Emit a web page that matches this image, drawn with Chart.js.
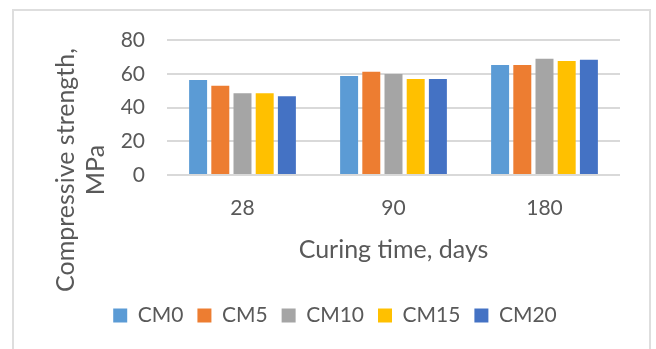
<!DOCTYPE html>
<html>
<head>
<meta charset="utf-8">
<script src="https://cdn.jsdelivr.net/npm/chart.js@4.4.1/dist/chart.umd.min.js"></script>
<style>
  html, body { margin: 0; padding: 0; background: #fff; }
  #wrap { position: relative; width: 656px; height: 349px; overflow: hidden; }
  #frame { position: absolute; left: 12px; top: 9px; width: 639px; height: 360px; border: 2px solid #dedede; box-sizing: border-box; }
  canvas { position: absolute; left: 0; top: 0; }
</style>
</head>
<body>
<div id="wrap">
  <div id="frame"></div>
  <canvas id="chart" width="656" height="349"></canvas>
</div>
<script>
// Dados
const curingDays = ['28', '90', '180'];
const seriesNames = ['CM0', 'CM5', 'CM10', 'CM15', 'CM20'];
const cm0 = [56.3, 58.7, 65.2];
const cm5 = [52.9, 61.2, 65.2];
const cm10 = [48.4, 59.8, 68.9];
const cm15 = [48.4, 56.9, 67.6];
const cm20 = [46.6, 56.9, 68.3];
const yTicks = [0, 20, 40, 60, 80];
const yTitleLines = ['Compressive strength,', 'MPa'];

const seriesValues = [cm0, cm5, cm10, cm15, cm20];
const seriesColors = ['#5B9BD5', '#ED7D31', '#A5A5A5', '#FFC000', '#4472C4'];

const textColor = '#595959';
const fontFamily = 'Lato, "Open Sans", sans-serif';

// Título do eixo Y desenhado à parte (centrado como no original)
const yTitlePlugin = {
    id: 'yTitle',
    afterDraw(chart) {
        const c = chart.ctx;
        c.save();
        c.fillStyle = textColor;
        c.font = `25px ${fontFamily}`;
        c.textAlign = 'center';
        c.textBaseline = 'middle';
        yTitleLines.forEach((line, i) => {
            c.save();
            c.translate(66 + i * 30, 170);
            c.rotate(-Math.PI / 2);
            c.fillText(line, 0, 0);
            c.restore();
        });
        c.restore();
    },
};

const ctx = document.getElementById('chart').getContext('2d');

new Chart(ctx, {
    type: 'bar',
    data: {
        labels: curingDays,
        datasets: seriesNames.map((name, i) => ({
            label: name,
            data: seriesValues[i],
            backgroundColor: seriesColors[i],
            borderWidth: 0,
            categoryPercentage: 0.735,
            barPercentage: 0.81,
        })),
    },
    options: {
        responsive: false,
        animation: false,
        layout: { padding: { left: 50, right: 36, top: 40, bottom: 13 } },
        scales: {
            x: {
                grid: { display: false },
                border: { display: false },
                ticks: { color: textColor, font: { family: fontFamily, size: 21 }, padding: 13 },
                title: {
                    display: true,
                    text: 'Curing time, days',
                    color: textColor,
                    font: { family: fontFamily, size: 25 },
                    padding: { top: 0, bottom: 26 },
                },
                afterFit: (axis) => { axis.height = 116; },
            },
            y: {
                min: 0,
                max: 80,
                afterBuildTicks: (axis) => { axis.ticks = yTicks.map(v => ({ value: v })); },
                grid: { color: '#d9d9d9', lineWidth: 2, drawTicks: false },
                border: { display: false },
                ticks: { color: textColor, font: { family: fontFamily, size: 21 }, padding: 22 },
                afterFit: (axis) => { axis.width = 117; },
            },
        },
        plugins: {
            legend: {
                position: 'bottom',
                labels: {
                    color: textColor,
                    font: { family: fontFamily, size: 21 },
                    boxWidth: 14,
                    boxHeight: 14,
                    padding: 14,
                },
            },
            tooltip: { enabled: false },
        },
    },
    plugins: [yTitlePlugin],
});
</script>
</body>
</html>
